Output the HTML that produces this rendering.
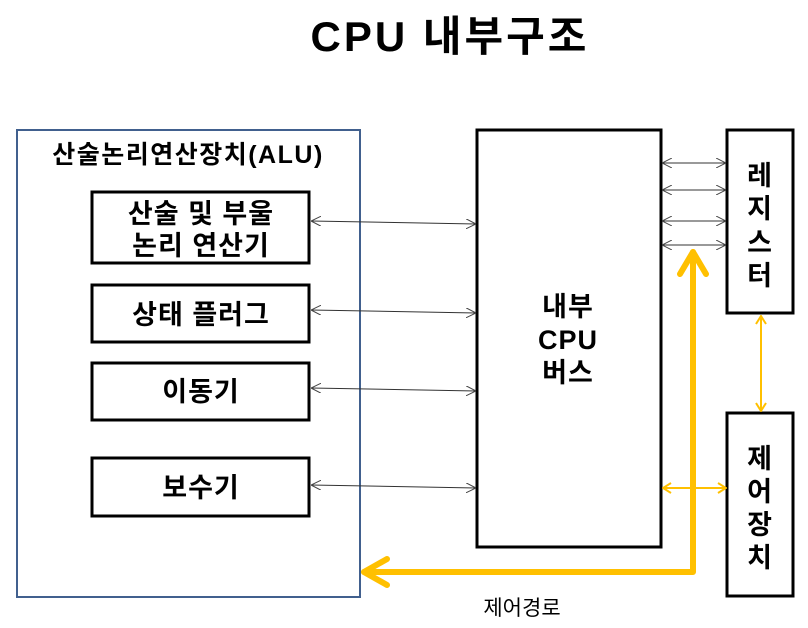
<!DOCTYPE html>
<html><head><meta charset="utf-8"><style>
html,body{margin:0;padding:0;background:#fff;width:808px;height:628px;overflow:hidden}
svg{display:block}
text{font-family:"Liberation Sans","Noto Sans CJK KR","NanumGothic",sans-serif;fill:#000}
</style></head><body>
<svg width="808" height="628" viewBox="0 0 808 628" xmlns="http://www.w3.org/2000/svg">
<defs>
<marker id="a" viewBox="0 0 10 10" refX="10" refY="5" markerWidth="10" markerHeight="10" markerUnits="userSpaceOnUse" orient="auto-start-reverse">
<path d="M0,0 L10,5 L0,10" fill="none" stroke="#444" stroke-width="1"/></marker>
<marker id="y" viewBox="0 0 10 12" refX="9" refY="6" markerWidth="10" markerHeight="12" markerUnits="userSpaceOnUse" orient="auto-start-reverse">
<path d="M1,1 L9,6 L1,11" fill="none" stroke="#FFC000" stroke-width="2"/></marker>
</defs>
<text x="450" y="51" font-size="42" font-weight="bold" text-anchor="middle" letter-spacing="3">CPU 내부구조</text>
<rect x="17" y="130" width="343" height="467" fill="none" stroke="#41608E" stroke-width="2"/>
<text x="188" y="163" font-size="25" font-weight="bold" text-anchor="middle" letter-spacing="1.5">산술논리연산장치(ALU)</text>
<g fill="none" stroke="#000" stroke-width="3">
<rect x="92" y="192" width="217" height="71"/>
<rect x="92" y="285" width="217" height="57"/>
<rect x="92" y="363" width="217" height="57"/>
<rect x="92" y="458" width="217" height="58"/>
<rect x="477" y="130" width="184" height="417"/>
<rect x="727" y="130" width="66" height="183"/>
<rect x="727" y="413" width="66" height="183"/>
</g>
<g font-size="27" font-weight="bold" text-anchor="middle" letter-spacing="1">
<text x="201" y="223">산술 및 부울</text>
<text x="201" y="255">논리 연산기</text>
<text x="201" y="324">상태 플러그</text>
<text x="201" y="401">이동기</text>
<text x="201" y="497">보수기</text>
<text x="568" y="316">내부</text>
<text x="568" y="349">CPU</text>
<text x="568" y="382">버스</text>
<text x="760" y="185">레</text>
<text x="760" y="218">지</text>
<text x="760" y="252">스</text>
<text x="760" y="285">터</text>
<text x="760" y="468">제</text>
<text x="760" y="501">어</text>
<text x="760" y="534">장</text>
<text x="760" y="567">치</text>
</g>
<text x="522" y="615" font-size="21" text-anchor="middle">제어경로</text>
<g stroke="#333" stroke-width="1" marker-start="url(#a)" marker-end="url(#a)">
<line x1="311" y1="221" x2="476" y2="224"/>
<line x1="311" y1="310" x2="476" y2="313"/>
<line x1="311" y1="388" x2="476" y2="391"/>
<line x1="311" y1="485" x2="476" y2="488"/>
<line x1="662" y1="163" x2="726" y2="163"/>
<line x1="662" y1="190" x2="726" y2="190"/>
<line x1="662" y1="221" x2="726" y2="221"/>
<line x1="662" y1="245" x2="726" y2="245"/>
</g>
<g stroke="#FFC000" stroke-width="2" marker-start="url(#y)" marker-end="url(#y)">
<line x1="663" y1="488" x2="726" y2="488"/>
<line x1="761" y1="316" x2="761" y2="411"/>
</g>
<g fill="none" stroke="#FFC000" stroke-width="6" stroke-linecap="round" stroke-linejoin="round">
<path d="M693,252 L693,572 L364,572"/>
<path d="M680,274 L693,252 L706,274"/>
<path d="M387,559 L364,572 L387,585"/>
</g>
</svg>
</body></html>
